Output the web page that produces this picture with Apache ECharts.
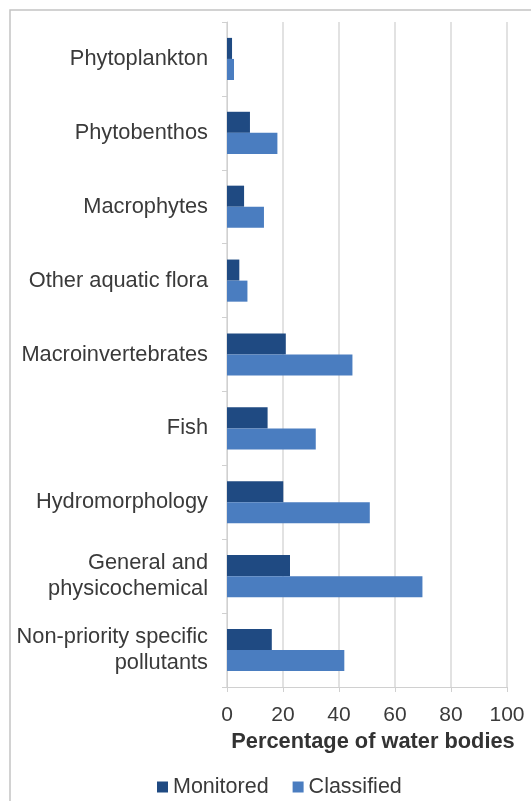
<!DOCTYPE html>
<html>
<head>
<meta charset="utf-8">
<script src="https://cdn.jsdelivr.net/npm/echarts@6/dist/echarts.min.js"></script>
<style>html,body{margin:0;padding:0;background:#fff}#c{width:531px;height:801px}</style>
</head>
<body>
<div id="c"></div>
<script>
const categories = ["Phytoplankton","Phytobenthos","Macrophytes","Other aquatic flora","Macroinvertebrates","Fish","Hydromorphology","General and\nphysicochemical","Non-priority specific\npollutants"];
const monitored = [1.8, 8.2, 6.1, 4.4, 21, 14.5, 20.1, 22.5, 16];
const classified = [2.5, 18, 13.2, 7.3, 44.8, 31.7, 51, 69.8, 41.9];
const xTicks = [0, 20, 40, 60, 80, 100];

const chart = echarts.init(document.getElementById('c'), null, {renderer: 'canvas'});
const font = 'Liberation Sans, Arial, sans-serif';
chart.setOption({
  animation: false,
  backgroundColor: '#fff',
  textStyle: {fontFamily: font},
  graphic: [{
    type: 'rect', shape: {x: 10, y: 10, width: 700, height: 900},
    style: {fill: 'none', stroke: '#c4c4c4', lineWidth: 1.5}, silent: true
  }],
  grid: {left: 227, right: 24, top: 22, bottom: 114},
  legend: {
    left: 152, top: 771, itemWidth: 11, itemHeight: 11, itemGap: 24,
    icon: 'rect',
    textStyle: {fontSize: 21.5, color: '#3a3a3a', fontFamily: font},
    data: ['Monitored', 'Classified']
  },
  xAxis: {
    type: 'value', min: xTicks[0], max: xTicks[xTicks.length - 1], interval: 20,
    name: 'Percentage of water bodies', nameLocation: 'middle', nameGap: 43,
    nameTextStyle: {fontSize: 21.8, fontWeight: 'bold', color: '#333', fontFamily: font, padding: [0, 0, 0, 12]},
    axisLine: {show: true, lineStyle: {color: '#d0d0d0'}},
    axisTick: {show: true, length: 5, lineStyle: {color: '#d0d0d0'}},
    axisLabel: {fontSize: 21, color: '#3a3a3a', margin: 18, fontFamily: font},
    splitLine: {show: true, lineStyle: {color: '#d9d9d9', width: 1.5}}
  },
  yAxis: {
    type: 'category', data: categories, inverse: true,
    axisLine: {show: true, lineStyle: {color: '#d0d0d0'}},
    axisTick: {show: true, length: 5, lineStyle: {color: '#d0d0d0'}},
    axisLabel: {fontSize: 21.8, color: '#3a3a3a', margin: 19, lineHeight: 26, fontFamily: font, align: 'right'},
    splitLine: {show: false}
  },
  series: [
    {name: 'Monitored', type: 'bar', data: monitored, barGap: '0%', barCategoryGap: '43%',
     itemStyle: {color: '#1f4a82'}},
    {name: 'Classified', type: 'bar', data: classified, barGap: '0%', barCategoryGap: '43%',
     itemStyle: {color: '#4a7dc0'}}
  ]
});
</script>
</body>
</html>
